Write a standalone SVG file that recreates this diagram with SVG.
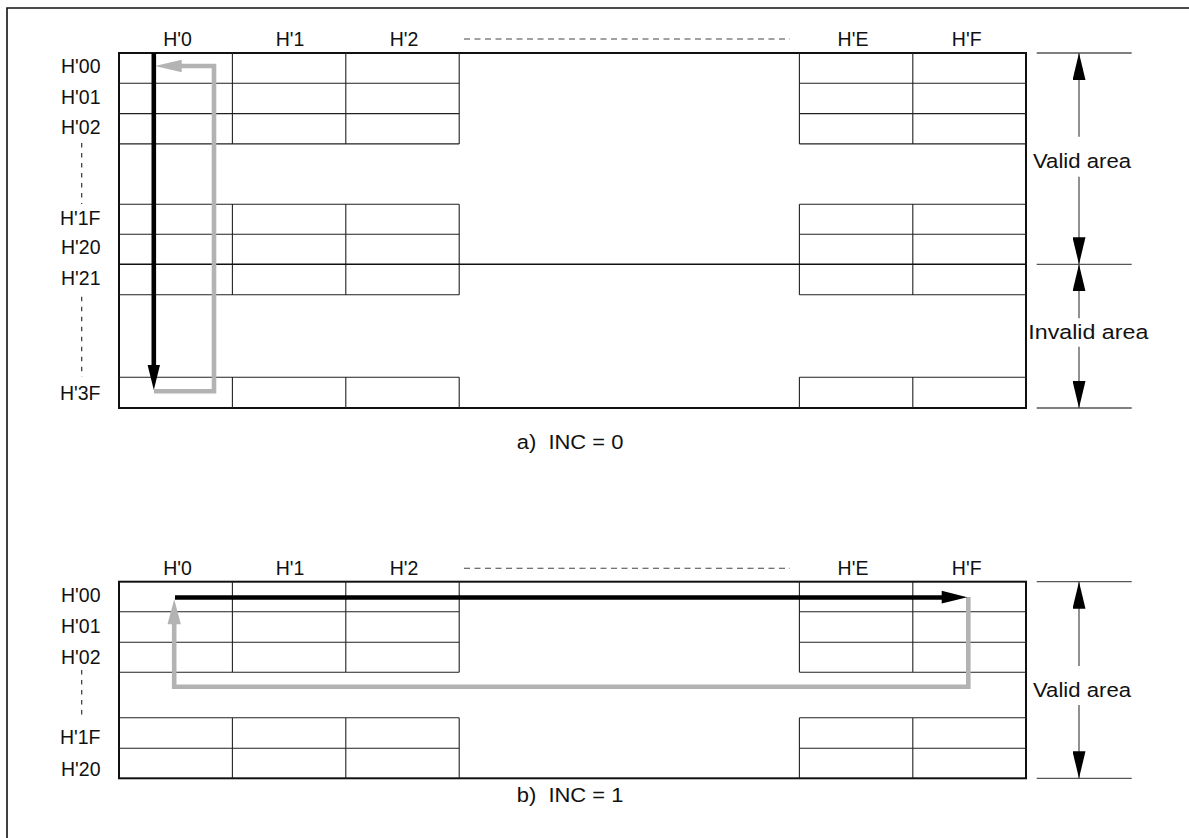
<svg xmlns="http://www.w3.org/2000/svg" width="1189" height="838" viewBox="0 0 1189 838">
<style>
text{font-family:"Liberation Sans",Arial,Helvetica,sans-serif;fill:#111}
.hd{font-size:19.5px;text-anchor:middle}
.rl{font-size:19.5px;text-anchor:end}
.ar{font-size:20.5px}
.cell{stroke:#222;stroke-width:1.1;fill:none}
.outer{stroke:#111;stroke-width:2;fill:none}
.dim{stroke:#555;stroke-width:1.3;fill:none}
.dash{stroke:#444;stroke-width:1.1;stroke-dasharray:6 4.5;fill:none}
.vdash{stroke:#333;stroke-width:1.2;stroke-dasharray:4.5 5.5;fill:none}
.blk{stroke:#000;stroke-width:4.6;fill:none}
.gry{stroke:#b3b3b3;stroke-width:4.6;fill:none;stroke-linejoin:miter}
</style>
<defs>
<marker id="dimA" markerUnits="userSpaceOnUse" markerWidth="27" markerHeight="13" refX="27" refY="6.5" orient="auto-start-reverse" viewBox="0 0 27 13">
<path d="M0,0 L27,6.5 L0,13 z" fill="#000"/>
</marker>
</defs>
<g id="frame">
<path d="M7,838 V8 H1189" stroke="#111" stroke-width="1.6" fill="none"/>
</g>

<!-- Diagram a -->
<g id="grid-a">
<rect class="outer" x="119" y="53" width="907" height="355"/>
<path class="cell" d="M119,83.3 H459.2 M119,113.6 H459.2 M119,143.9 H459.2 M799.4,83.3 H1026 M799.4,113.6 H1026 M799.4,143.9 H1026
M232.4,53 V143.9 M345.8,53 V143.9 M459.2,53 V143.9 M799.4,53 V143.9 M912.8,53 V143.9
M119,204.3 H459.2 M119,234.3 H459.2 M119,294.7 H459.2 M799.4,204.3 H1026 M799.4,234.3 H1026 M799.4,294.7 H1026
M232.4,204.3 V294.7 M345.8,204.3 V294.7 M459.2,204.3 V294.7 M799.4,204.3 V294.7 M912.8,204.3 V294.7
M119,377.3 H459.2 M799.4,377.3 H1026
M232.4,377.3 V408 M345.8,377.3 V408 M459.2,377.3 V408 M799.4,377.3 V408 M912.8,377.3 V408"/>
<line x1="119" y1="264.3" x2="1026" y2="264.3" stroke="#111" stroke-width="1.6"/>
</g>
<g id="headers-a">
<text class="hd" x="177.5" y="46">H'0</text>
<text class="hd" x="290" y="46">H'1</text>
<text class="hd" x="404" y="46">H'2</text>
<text class="hd" x="853" y="46">H'E</text>
<text class="hd" x="966.7" y="46">H'F</text>
<line class="dash" x1="464" y1="39" x2="790" y2="39"/>
</g>
<g id="rows-a">
<text class="rl" x="100.5" y="73">H'00</text>
<text class="rl" x="100.5" y="103.5">H'01</text>
<text class="rl" x="100.5" y="134">H'02</text>
<line class="vdash" x1="81.7" y1="143" x2="81.7" y2="204"/>
<text class="rl" x="100.5" y="225">H'1F</text>
<text class="rl" x="100.5" y="254">H'20</text>
<text class="rl" x="100.5" y="284.5">H'21</text>
<line class="vdash" x1="81.7" y1="296.7" x2="81.7" y2="377"/>
<text class="rl" x="100.5" y="399.5">H'3F</text>
</g>
<g id="dimension-a">
<path class="dim" d="M1036.7,53 H1131.7 M1036.7,264.3 H1131.7 M1036.7,408 H1131.7"/>
<line class="dim" x1="1079" y1="53" x2="1079" y2="136.7" marker-start="url(#dimA)"/>
<text class="ar" x="1033" y="168.3" textLength="98" lengthAdjust="spacingAndGlyphs">Valid area</text>
<line class="dim" x1="1079" y1="176.7" x2="1079" y2="264.3" marker-end="url(#dimA)"/>
<line class="dim" x1="1079" y1="264.3" x2="1079" y2="318.3" marker-start="url(#dimA)"/>
<text class="ar" x="1028.3" y="339.3" textLength="120" lengthAdjust="spacingAndGlyphs">Invalid area</text>
<line class="dim" x1="1079" y1="346.7" x2="1079" y2="408" marker-end="url(#dimA)"/>
</g>
<g id="connectors-a">
<polyline class="gry" points="154,391.2 214,391.2 214,66 180,66"/>
<polygon points="155,66 181.7,59.7 181.7,72.3" fill="#b3b3b3"/>
<line class="blk" x1="153.8" y1="53" x2="153.8" y2="368"/>
<polygon points="153.8,390 147.6,365 160,365" fill="#000"/>
</g>
<text id="caption-a" class="ar" x="516.7" y="449.3" textLength="106.7" lengthAdjust="spacingAndGlyphs" xml:space="preserve">a)  INC = 0</text>

<!-- Diagram b -->
<g id="grid-b">
<rect class="outer" x="119" y="581.7" width="907" height="196.6"/>
<path class="cell" d="M119,611.7 H459.2 M119,642.3 H459.2 M119,672.3 H459.2 M799.4,611.7 H1026 M799.4,642.3 H1026 M799.4,672.3 H1026
M232.4,581.7 V672.3 M345.8,581.7 V672.3 M459.2,581.7 V672.3 M799.4,581.7 V672.3 M912.8,581.7 V672.3
M119,717.7 H459.2 M119,748.3 H459.2 M799.4,717.7 H1026 M799.4,748.3 H1026
M232.4,717.7 V778.3 M345.8,717.7 V778.3 M459.2,717.7 V778.3 M799.4,717.7 V778.3 M912.8,717.7 V778.3"/>
</g>
<g id="headers-b">
<text class="hd" x="177.5" y="575">H'0</text>
<text class="hd" x="290" y="575">H'1</text>
<text class="hd" x="404" y="575">H'2</text>
<text class="hd" x="853" y="575">H'E</text>
<text class="hd" x="966.7" y="575">H'F</text>
<line class="dash" x1="464" y1="568.3" x2="790" y2="568.3"/>
</g>
<g id="rows-b">
<text class="rl" x="100.5" y="601.7">H'00</text>
<text class="rl" x="100.5" y="633.3">H'01</text>
<text class="rl" x="100.5" y="664.3">H'02</text>
<line class="vdash" x1="81.7" y1="670" x2="81.7" y2="717"/>
<text class="rl" x="100.5" y="744">H'1F</text>
<text class="rl" x="100.5" y="775.5">H'20</text>
</g>
<g id="dimension-b">
<path class="dim" d="M1036.7,581.7 H1131.7 M1036.7,778.3 H1131.7"/>
<line class="dim" x1="1079" y1="581.7" x2="1079" y2="666" marker-start="url(#dimA)"/>
<text class="ar" x="1033" y="696.7" textLength="98" lengthAdjust="spacingAndGlyphs">Valid area</text>
<line class="dim" x1="1079" y1="705" x2="1079" y2="778.3" marker-end="url(#dimA)"/>
</g>
<g id="connectors-b">
<polyline class="gry" points="174.2,622 174.2,686.8 968.3,686.8 968.3,597"/>
<polygon points="174.2,599.3 167.5,624.3 180.9,624.3" fill="#b3b3b3"/>
<line class="blk" x1="175" y1="597.5" x2="944" y2="597.5"/>
<polygon points="967.3,597.2 941.7,590.8 941.7,603.6" fill="#000"/>
</g>
<text id="caption-b" class="ar" x="516.7" y="802" textLength="106.7" lengthAdjust="spacingAndGlyphs" xml:space="preserve">b)  INC = 1</text>
</svg>
